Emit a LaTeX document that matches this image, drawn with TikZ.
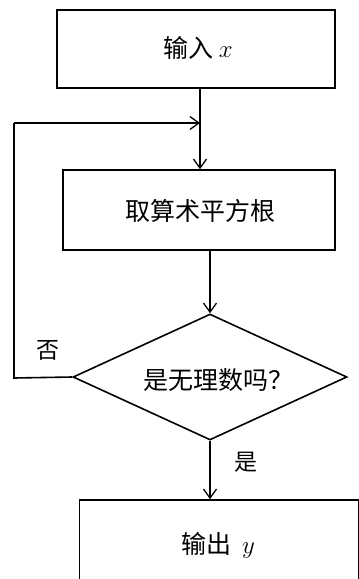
\documentclass[tikz,border=0pt]{standalone}
\usepackage{fontspec}
\newfontfamily\cjk{Noto Sans CJK SC}
\usetikzlibrary{arrows.meta,shapes.geometric}
\begin{document}
\begin{tikzpicture}[x=1pt,y=-1pt,
  line width=1.6pt,
  flowbox/.style={draw,rectangle,line width=1.6pt,inner sep=0pt},
  decision/.style={draw,diamond,line width=1.6pt,inner sep=0pt},
  txt/.style={font=\cjk\fontsize{25}{28}\selectfont},
  arr/.style={-{Straight Barb[length=9pt,width=13pt,line width=1.3pt]}},
  lbl/.style={font=\cjk\fontsize{23}{26}\selectfont}]
\useasboundingbox (0,0) rectangle (359,579);
\clip (0,0) rectangle (359,579);
\fill[white] (0,0) rectangle (359,579);
\node[flowbox,minimum width=278pt,minimum height=78pt] (in) at (196,49) {};
\node[txt] (intext) at (198,48) {输入 $x$};
\node[flowbox,minimum width=272pt,minimum height=80pt] (sq) at (199,210) {};
\node[txt] (sqtext) at (200,211) {取算术平方根};
\node[decision,minimum width=274pt,minimum height=126pt] (dec) at (210,377) {};
\node[txt] (dectext) at (218,380) {是无理数吗？};
\node[flowbox,minimum width=279pt,minimum height=100pt] (out) at (219,550) {};
\node[txt] (outtext) at (218,545) {输出 \ $y$};
\coordinate (top) at (200,123);
\coordinate (cl) at (14,123);
\coordinate (bl) at (14,378);
\draw[arr] (in.south -| top) -- (sq.north -| top);
\draw[arr] (sq.south -| dec.north) -- (dec.north);
\draw (dec.west) -- (bl) -- (cl);
\draw[arr] (cl) -- (top);
\draw[arr] (dec.south) -- (out.north -| dec.south);
\node[lbl] (no) at (48,350) {否};
\node[lbl] (yes) at (246,462) {是};
\end{tikzpicture}
\end{document}
